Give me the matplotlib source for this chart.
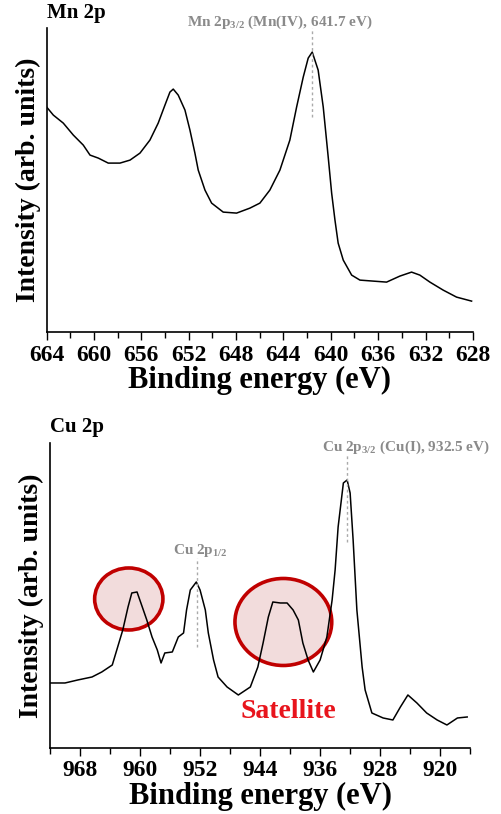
# %%
import matplotlib
matplotlib.use("Agg")
import matplotlib.pyplot as plt
from matplotlib.patches import Ellipse
from matplotlib.ticker import MultipleLocator

plt.rcParams["font.family"] = ["Liberation Serif", "DejaVu Serif"]
plt.rcParams["font.weight"] = "bold"
plt.rcParams["mathtext.fontset"] = "custom"
plt.rcParams["mathtext.rm"] = "Liberation Serif:bold"
plt.rcParams["mathtext.bf"] = "Liberation Serif:bold"

# %% data (binding energy in eV, intensity in arb. units)
mn_energy = [664.00, 663.44, 662.60, 661.75, 660.91, 660.34, 659.64, 658.80, 657.81,
             656.96, 656.12, 655.28, 654.58, 654.01, 653.59, 653.31, 652.89, 652.32,
             651.90, 651.48, 651.20, 650.63, 650.07, 649.09, 647.96, 646.83, 645.99,
             645.15, 644.30, 643.46, 642.89, 642.33, 641.91, 641.57, 641.07, 640.64,
             640.22, 639.93, 639.65, 639.38, 638.95, 638.24, 637.54, 636.42, 635.29,
             634.17, 633.18, 632.48, 631.63, 630.51, 629.38, 628.11]
mn_intensity = [225, 217, 209, 197, 187, 177, 174, 169, 169,
                172, 179, 192, 209, 227, 240, 243, 237, 222,
                202, 179, 162, 142, 129, 120, 119, 124, 129,
                142, 162, 192, 225, 255, 274, 280, 262, 225,
                175, 139, 112, 89, 72, 57, 52, 51, 50,
                56, 60, 57, 50, 42, 35, 31]

cu_energy = [972.0, 970.0, 968.3, 966.4, 965.1, 963.7, 963.1, 962.3, 961.6, 961.1,
             960.4, 959.7, 959.1, 958.4, 957.7, 957.2, 956.7, 955.7, 954.9, 954.2,
             953.8, 953.3, 952.5, 952.0, 951.3, 950.9, 950.2, 949.6, 948.4, 946.9,
             945.3, 944.3, 943.6, 942.9, 942.3, 941.3, 940.4, 939.6, 938.9, 938.3,
             937.6, 936.9, 936.0, 935.1, 934.4, 934.0, 933.6, 932.9, 932.4, 932.0,
             931.6, 931.1, 930.4, 930.0, 929.1, 927.6, 926.3, 925.3, 924.3, 923.1,
             921.8, 920.4, 919.1, 917.7, 916.4]
cu_intensity = [65, 65, 68, 71, 76, 83, 98, 118, 141, 155,
                156, 141, 128, 111, 98, 85, 95, 96, 111, 115,
                138, 158, 166, 158, 138, 115, 88, 71, 61, 53,
                61, 81, 105, 131, 146, 145, 145, 138, 128, 105,
                88, 76, 88, 111, 148, 178, 221, 265, 268, 255,
                208, 138, 81, 58, 35, 30, 28, 41, 53, 45,
                35, 28, 23, 30, 31]

mn_peak = 641.6
cu_peaks = [952.4, 932.4]
satellites = [(961.5, 149, 9.1, 62), (940.9, 126, 12.9, 87)]

# %%
fig = plt.figure(figsize=(5.02, 8.14), dpi=100)
ax1 = fig.add_axes([0.093, 0.592, 0.849, 0.3735])
ax2 = fig.add_axes([0.0996, 0.0811, 0.837, 0.3747])

gray = "#8a8a8a"

for ax in (ax1, ax2):
    ax.spines["top"].set_visible(False)
    ax.spines["right"].set_visible(False)
    ax.spines["left"].set_linewidth(1.2)
    ax.spines["bottom"].set_linewidth(1.2)
    ax.set_yticks([])
    ax.tick_params(axis="x", which="major", direction="out", length=6, width=1.0,
                   labelsize=17, pad=3)
    ax.tick_params(axis="x", which="minor", direction="out", length=4, width=1.0)
    ax.set_xlabel("Binding energy (eV)", fontsize=22, fontweight="bold", labelpad=0)
    ax.set_ylabel("Intensity (arb. units)", fontsize=20, fontweight="bold", labelpad=4)

# Mn 2p
ax1.plot(mn_energy, mn_intensity, color="black", lw=1.1)
ax1.set_xlim(664, 628)
ax1.set_ylim(0, 304)
ax1.xaxis.set_major_locator(MultipleLocator(4))
ax1.xaxis.set_minor_locator(MultipleLocator(2))
ax1.plot([mn_peak, mn_peak], [215, 304], ls=(0, (2, 2)), color="#aaaaaa", lw=1.0,
         clip_on=False)
ax1.text(mn_peak + 2.7, 310, r"Mn 2p$_{3/2}$ (Mn(IV), 641.7 eV)", color=gray,
         fontsize=11, fontweight="bold", ha="center", va="center")
ax1.text(0.0, 1.033, "Mn 2p", transform=ax1.transAxes, fontsize=15,
         fontweight="bold", ha="left", va="baseline")

# Cu 2p
for ex, ey, ew, eh in satellites:
    ax2.add_patch(Ellipse((ex, ey), ew, eh, facecolor="#f2dcdc", edgecolor="#c00000",
                          lw=2.6, zorder=1))
ax2.plot(cu_energy, cu_intensity, color="black", lw=1.1, zorder=2)
ax2.set_xlim(972, 916)
ax2.set_ylim(0, 305)
ax2.xaxis.set_major_locator(MultipleLocator(8))
ax2.xaxis.set_minor_locator(MultipleLocator(4))
ax2.plot([cu_peaks[0], cu_peaks[0]], [101, 190], ls=(0, (2, 2)), color="#aaaaaa", lw=1.0)
ax2.plot([cu_peaks[1], cu_peaks[1]], [206, 293], ls=(0, (2, 2)), color="#aaaaaa", lw=1.0)
ax2.text(951.9, 197, r"Cu 2p$_{1/2}$", color=gray, fontsize=11, fontweight="bold",
         ha="center", va="center")
ax2.text(924.5, 301, r"Cu 2p$_{3/2}$ (Cu(I), 932.5 eV)", color=gray, fontsize=11,
         fontweight="bold", ha="center", va="center", clip_on=False)
ax2.text(940.2, 36, "Satellite", color="#e8141c", fontsize=20, fontweight="bold",
         ha="center", va="center")
ax2.text(0.0, 1.036, "Cu 2p", transform=ax2.transAxes, fontsize=15,
         fontweight="bold", ha="left", va="baseline")

fig.savefig("out.png", dpi=100)
